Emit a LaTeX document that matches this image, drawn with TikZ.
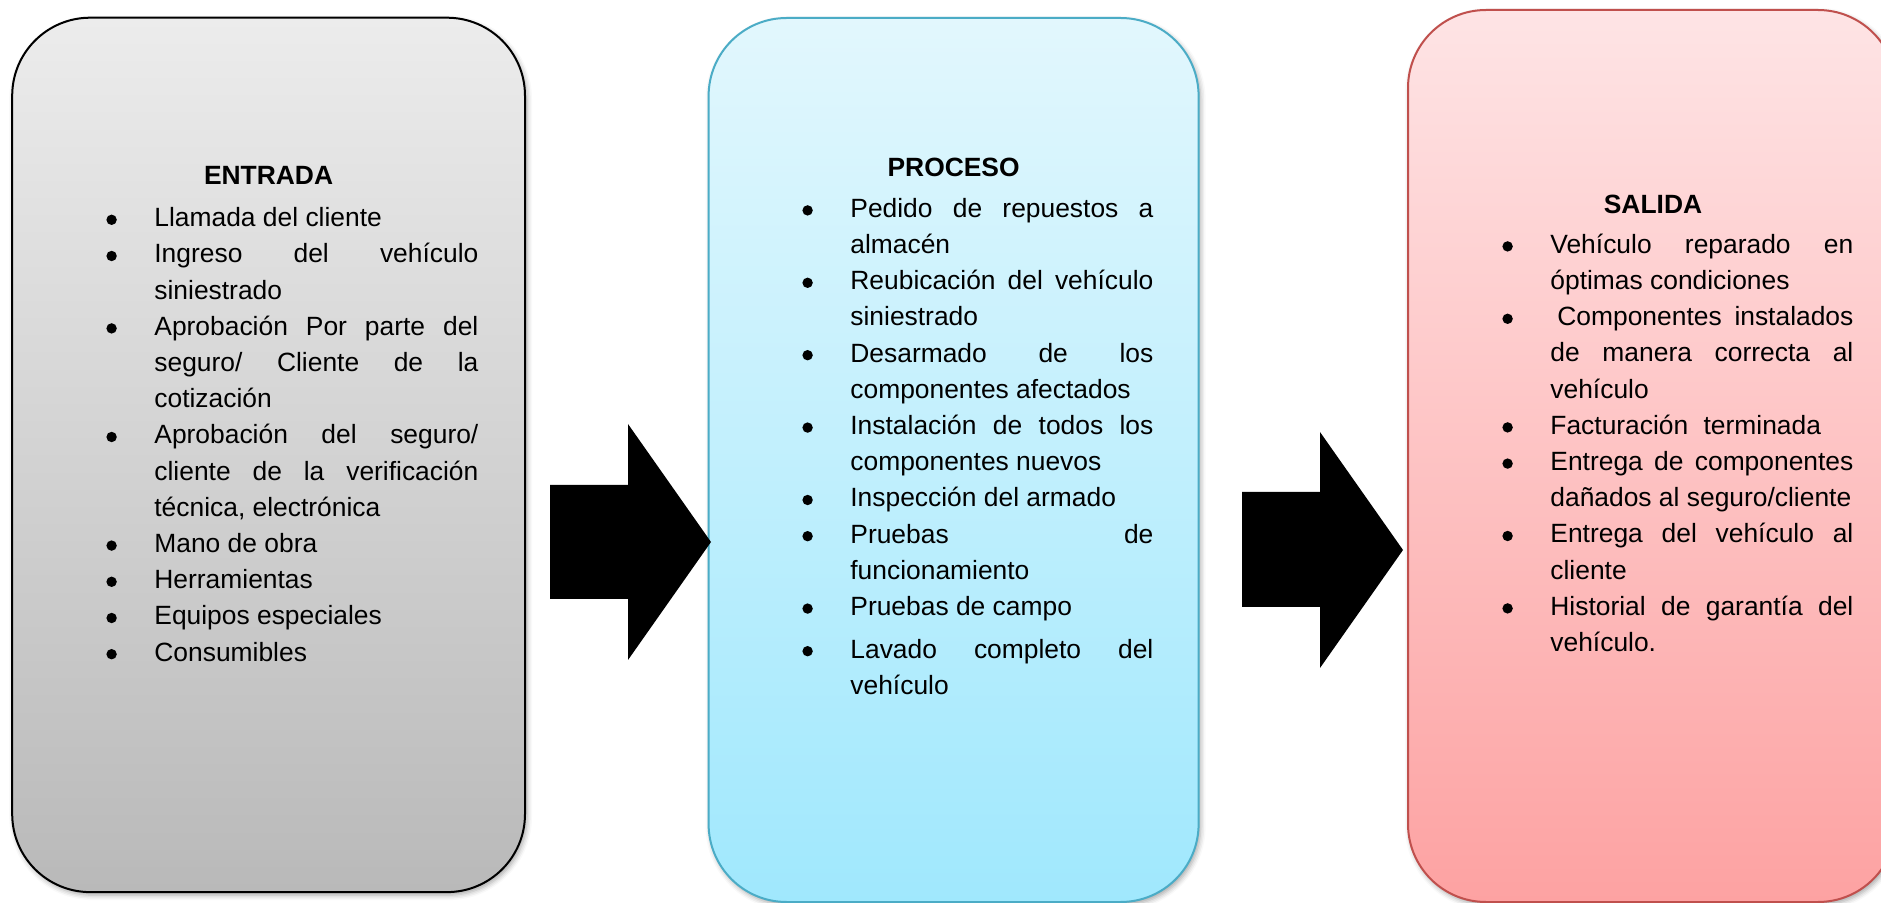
\documentclass[tikz,border=0pt]{standalone}
\usepackage{fontspec}
\setmainfont{Liberation Sans}
\usetikzlibrary{shadows.blur}

\definecolor{graytop}{HTML}{ECECEC}
\definecolor{graybot}{HTML}{B9B9B9}
\definecolor{bluetop}{HTML}{E2F7FD}
\definecolor{bluebot}{HTML}{A0E8FD}
\definecolor{blueline}{HTML}{4BACC6}
\definecolor{redtop}{HTML}{FEE4E5}
\definecolor{redbot}{HTML}{FDA2A2}
\definecolor{redline}{HTML}{C0504D}

% round bullet used in front of every list entry
\newcommand{\dotmark}{\raisebox{0.85pt}{\tikz\fill (0,0) circle[radius=2.6pt];}}
% one list entry with a hanging indent
\newcommand{\itm}[1]{\hangindent=24pt\hangafter=1\leavevmode\makebox[24pt][l]{\dotmark}#1\par}
\newcommand{\listsetup}{\parindent=0pt\hyphenpenalty=10000\exhyphenpenalty=10000\tolerance=10000\relax}

\tikzset{
  panel/.style={rounded corners=39pt, line width=1pt,
    blur shadow={shadow xshift=1pt, shadow yshift=-1.5pt, shadow blur radius=2.5pt, shadow opacity=35}},
  headtext/.style={anchor=base, inner sep=0pt, font=\fontsize{13.2pt}{18.1pt}\selectfont\bfseries},
  listtext/.style={anchor=base west, inner sep=0pt, align=justify,
    font=\fontsize{13.2pt}{18.1pt}\selectfont},
  blockarrow/.style={fill=black}
}

\begin{document}
\begin{tikzpicture}[x=0.5pt, y=-0.5pt]
\useasboundingbox (0,0) rectangle (1881,903);

% the three panels
\node[panel, draw=black, top color=graytop, bottom color=graybot,
      minimum width=256.4pt, minimum height=437.2pt] (entrada) at (268.6,454.9) {};
\node[panel, draw=blueline, top color=bluetop, bottom color=bluebot,
      minimum width=245pt, minimum height=442pt] (proceso) at (953.6,460) {};
\node[panel, draw=redline, top color=redtop, bottom color=redbot,
      minimum width=244pt, minimum height=446pt] (salida) at (1652,456) {};

% block arrows between the panels
\fill[blockarrow] (550,485) -- (628,485) -- (628,424) -- (711,542) -- (628,660)
  -- (628,599) -- (550,599) -- cycle;
\fill[blockarrow] (1242,492) -- (1320,492) -- (1320,432) -- (1403,550) -- (1320,668)
  -- (1320,607) -- (1242,607) -- cycle;

% headings
\node[headtext] (hentrada) at (268.6,185) {ENTRADA};
\node[headtext] (hproceso) at (953.6,176.7) {PROCESO};
\node[headtext] (hsalida) at (1653,213.3) {SALIDA};

% lists
\node[listtext, text width=186pt] (lentrada) at (106,226.7) {\listsetup
  \itm{Llamada del cliente}
  \itm{Ingreso del vehículo\linebreak siniestrado}
  \itm{Aprobación Por parte del\linebreak seguro/ Cliente de la\linebreak cotización}
  \itm{Aprobación del seguro/\linebreak cliente de la verificación\linebreak técnica, electrónica}
  \itm{Mano de obra}
  \itm{Herramientas}
  \itm{Equipos especiales}
  \itm{Consumibles}};

\node[listtext, text width=175.5pt] (lproceso) at (802,217.3) {\listsetup
  \itm{Pedido de repuestos a\linebreak almacén}
  \itm{Reubicación del vehículo\linebreak siniestrado}
  \itm{Desarmado de los\linebreak componentes afectados}
  \itm{Instalación de todos los\linebreak componentes nuevos}
  \itm{Inspección del armado}
  \itm{Pruebas de\linebreak funcionamiento}
  \itm{Pruebas de campo}
  \vspace{3.2pt}
  \itm{Lavado completo del\linebreak vehículo}};

\node[listtext, text width=175.5pt] (lsalida) at (1502,253.3) {\listsetup
  \itm{Vehículo reparado en\linebreak óptimas condiciones}
  \itm{\hspace{3.5pt}Componentes instalados\linebreak de manera correcta al\linebreak vehículo}
  \itm{Facturación\hspace{4pt} terminada}
  \itm{Entrega de componentes\linebreak dañados al seguro/cliente}
  \itm{Entrega del vehículo al\linebreak cliente}
  \itm{Historial de garantía del\linebreak vehículo.}};
\end{tikzpicture}
\end{document}
